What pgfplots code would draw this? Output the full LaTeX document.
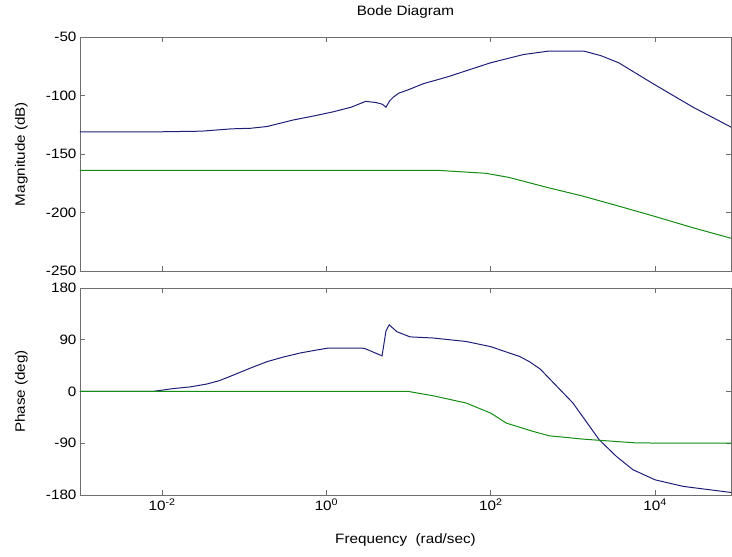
\documentclass[border=0pt]{standalone}
\usepackage{pgfplots}
\pgfplotsset{compat=1.18}
\usepackage{fontspec}
\setmainfont{Liberation Sans}[FakeStretch=1.12]
\definecolor{mblue}{RGB}{30,30,120}
\definecolor{mgreen}{RGB}{20,140,20}
\definecolor{axgray}{RGB}{110,110,110}
\begin{document}
\begin{tikzpicture}
\useasboundingbox (0,0) rectangle (732pt,557pt);
\pgfplotsset{
  every axis/.append style={
    font=\fontsize{13.6}{15}\selectfont,
    scale only axis,
    width=651pt,
    xmode=log,
    xmin=1e-3, xmax=84000,
    xtick={1e-2,1,1e2,1e4},
    axis line style={axgray, line width=0.9pt},
    every tick/.style={axgray, line width=0.9pt},
    major tick length=5pt,
    minor tick num=0,
    xminorticks=false,
    tick align=inside,
    /pgf/number format/assume math mode=true,
    y label style={at={(axis description cs:-0.09,0.5)}, anchor=center, rotate=0},
    anchor=south west,
  }
}
% Magnitude
\begin{axis}[
  at={(80pt,286pt)},
  height=234pt,
  ymin=-250, ymax=-50,
  ytick={-250,-200,-150,-100,-50},
  xticklabels={},
  ylabel={Magnitude (dB)},
  title={Bode Diagram},
  title style={at={(0.5,1)}, anchor=center, yshift=19pt},
]
\addplot[mblue, line width=1pt] coordinates {
(1e-3,-131)(1e-2,-131)(0.03,-130.5)(0.07,-128.5)(0.12,-128)(0.19,-126.5)(0.39,-121)(0.7,-117.5)(1.2,-114)(2.0,-110)(3.0,-105)(4.0,-106)(4.8,-107.5)(5.3,-110)(5.9,-104.5)(6.5,-101.5)(7.6,-98)(10,-95)(15,-90)(30,-84)(100,-72)(250,-65)(513,-62)(1350,-62)(2200,-66)(3600,-72)(9500,-90)(29000,-110)(84000,-127)
};
\addplot[mgreen, line width=1pt] coordinates {
(1e-3,-164)(23,-164)(87,-166.5)(166,-170)(513,-179)(1320,-186)(3390,-194)(9550,-203)(28800,-213)(84000,-222)
};
\end{axis}
% Phase
\begin{axis}[
  at={(80pt,62pt)},
  height=207pt,
  ymin=-180, ymax=180,
  ytick={-180,-90,0,90,180},
  xticklabels={10\textsuperscript{-2},10\textsuperscript{0},10\textsuperscript{2},10\textsuperscript{4}},
  ylabel={Phase (deg)},
  xlabel={Frequency \ (rad/sec)},
  x label style={at={(axis description cs:0.5,0)}, anchor=center, yshift=-45pt},
]
\addplot[mblue, line width=1pt] coordinates {
(1e-3,0)(0.0076,0)(0.0135,5)(0.022,8)(0.035,13)(0.05,19)(0.072,28)(0.12,41)(0.19,52)(0.3,60)(0.48,67)(0.75,72)(1.05,75.5)(2.6,75.5)(2.9,75)(4.75,62)(5.3,105)(5.8,116)(7.2,104)(10.4,95)(20,93)(50,87)(100,78)(160,68)(224,61)(295,52)(400,39)(513,23)(1000,-20)(2090,-84)(3390,-113)(5370,-136)(10000,-153.6)(21900,-165)(84000,-175.6)
};
\addplot[mgreen, line width=1pt] coordinates {
(1e-3,0)(10,0)(20,-7.5)(50,-20)(100,-37.6)(155,-55)(331,-69.6)(513,-77)(1320,-82.8)(3390,-87)(6000,-89.5)(84000,-90)
};
\end{axis}
\end{tikzpicture}
\end{document}
